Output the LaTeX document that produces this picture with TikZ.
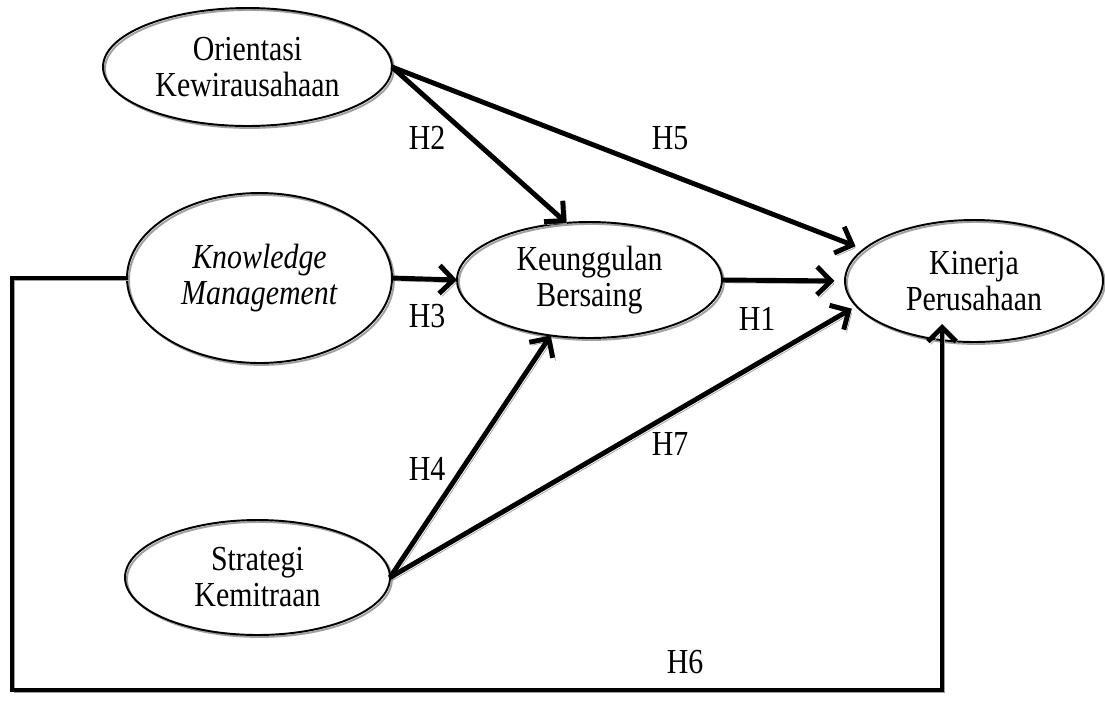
\documentclass[tikz,border=0pt]{standalone}
\usepackage{fontspec}
\setmainfont{Liberation Serif}[FakeStretch=0.85]
\usetikzlibrary{shapes.geometric,arrows.meta}
\definecolor{shadowGray}{RGB}{160,160,160}

\begin{document}
\begin{tikzpicture}[
    x=0.02cm, y=-0.02cm,
    every node/.style={font=\fontsize{20}{20.5}\selectfont, align=center},
    latentNode/.style={ellipse, draw=black, line width=1.1pt, inner sep=0pt, outer sep=0pt, preaction={draw=shadowGray, line width=1.1pt, transform canvas={shift={(1.1pt,-1.1pt)}}}},
    pathArrow/.style={-{Straight Barb[length=8pt, width=16pt]}, line width=2.8pt, line join=miter, preaction={draw=shadowGray, transform canvas={shift={(1.6pt,-1.6pt)}}}},
    hLabel/.style={inner sep=0pt}
]
\useasboundingbox (0,0) rectangle (1105,708);

% Nodes
\node (orientasi) [latentNode, minimum width=5.78cm, minimum height=2.36cm] at (247.5,67) {Orientasi\\Kewirausahaan};
\node (km) [latentNode, minimum width=5.3cm, minimum height=3.4cm] at (259.5,278) {\textit{Knowledge}\\\textit{Management}};
\node (keunggulan) [latentNode, minimum width=5.3cm, minimum height=2.32cm] at (589.5,280) {Keunggulan\\Bersaing};
\node (kinerja) [latentNode, minimum width=5.16cm, minimum height=2.44cm] at (974,281) {Kinerja\\Perusahaan};
\node (strategi) [latentNode, minimum width=5.3cm, minimum height=2.3cm] at (257.5,577.5) {Strategi\\Kemitraan};

% Labels
\node (h1) [hLabel] at (757,319) {H1};
\node (h2) [hLabel] at (427,138) {H2};
\node (h3) [hLabel] at (427,316) {H3};
\node (h4) [hLabel] at (427,469) {H4};
\node (h5) [hLabel] at (670,138) {H5};
\node (h6) [hLabel] at (685,662) {H6};
\node (h7) [hLabel] at (670,444) {H7};

% Connectors
\coordinate (h6left) at (12,278);
\coordinate (h6corner) at (942,690);
\coordinate (h6tip) at (942,324);
\draw [pathArrow] (orientasi.east) -- (keunggulan.112);
\draw [pathArrow, shorten >=5pt] (orientasi.east) -- (kinerja.164);
\draw [pathArrow] (km.east) -- (keunggulan.west);
\draw [pathArrow, shorten >=6pt] (keunggulan.east) -- (kinerja.west);
\draw [pathArrow] (strategi.east) -- (keunggulan.235);
\draw [pathArrow, shorten >=3pt] (strategi.east) -- (kinerja.192);
\draw [pathArrow] (km.west) -- (h6left) |- (h6corner) -- (h6tip);

\end{tikzpicture}
\end{document}
